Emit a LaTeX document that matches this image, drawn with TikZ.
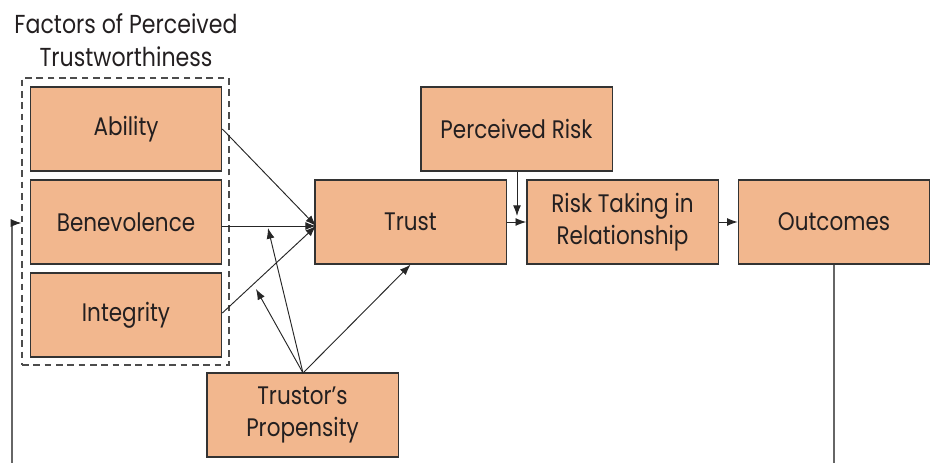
\documentclass[tikz,border=0pt]{standalone}
\usepackage{fontspec}
\setmainfont{Poppins}[FakeStretch=0.85]
\usetikzlibrary{arrows.meta,calc}
\definecolor{boxfill}{HTML}{F2B78E}
\definecolor{ink}{HTML}{231F20}
\begin{document}
\begin{tikzpicture}[x=0.75pt,y=-0.75pt,
  fbox/.style={draw=black!80, line width=1pt, fill=boxfill, minimum width=143.5pt, minimum height=63pt, align=center, text=ink, font=\fontsize{19}{24}\selectfont, inner sep=2pt},
  arr/.style={draw=black!85, line width=0.7pt, -{Latex[length=8pt,width=6pt]}},
  gline/.style={draw=black!60, line width=1.5pt}]
\useasboundingbox (0,0) rectangle (935,463);
\node[text=ink, align=center, font=\fontsize{19.5}{25}\selectfont] (title) at (126,40) {Factors of Perceived\\Trustworthiness};
\node[draw=black!70, dash pattern=on 5pt off 3.5pt, line width=1pt, minimum width=155.25pt, minimum height=215.25pt] (group) at (125.5,221.5) {};
\node[fbox] (ability) at (126,129) {Ability};
\node[fbox] (benev) at (126,222) {Benevolence};
\node[fbox] (integ) at (126,315) {Integrity};
\node[fbox] (trust) at (410.5,222) {Trust};
\node[fbox] (prisk) at (516.5,129) {Perceived Risk};
\node[fbox] (rtake) at (622.5,222) {Risk Taking in\\Relationship};
\node[fbox] (outc) at (834,222) {Outcomes};
\node[fbox] (prop) at (302.5,415) {Trustor’s\\Propensity};
\coordinate (tin) at (316,226);
\coordinate (p1) at (268,228);
\coordinate (p2) at (256,289);
\coordinate (pstart) at (303,373);
\coordinate (rdown) at (517,216);
\coordinate (oend) at (834,463);
\coordinate (lstart) at (12,463);
\coordinate (lturn) at (12,223);
\draw[arr] (ability.east) -- (tin);
\draw[arr] (benev.east |- tin) -- (tin);
\draw[arr] ($(integ.east)+(0,-2)$) -- (tin);
\draw[arr] (pstart) -- (p1);
\draw[arr] (pstart) -- (p2);
\draw[arr] (pstart) -- (trust.south);
\draw[arr] (prisk.south -| rdown) -- (rdown);
\draw[arr] (trust.east) -- (rtake.west);
\draw[arr] (rtake.east) -- (outc.west);
\draw[gline] (outc.south) -- (oend);
\draw[gline] (lstart) -- (lturn);
\draw[arr] (lturn) -- (group.west |- lturn);
\end{tikzpicture}
\end{document}
